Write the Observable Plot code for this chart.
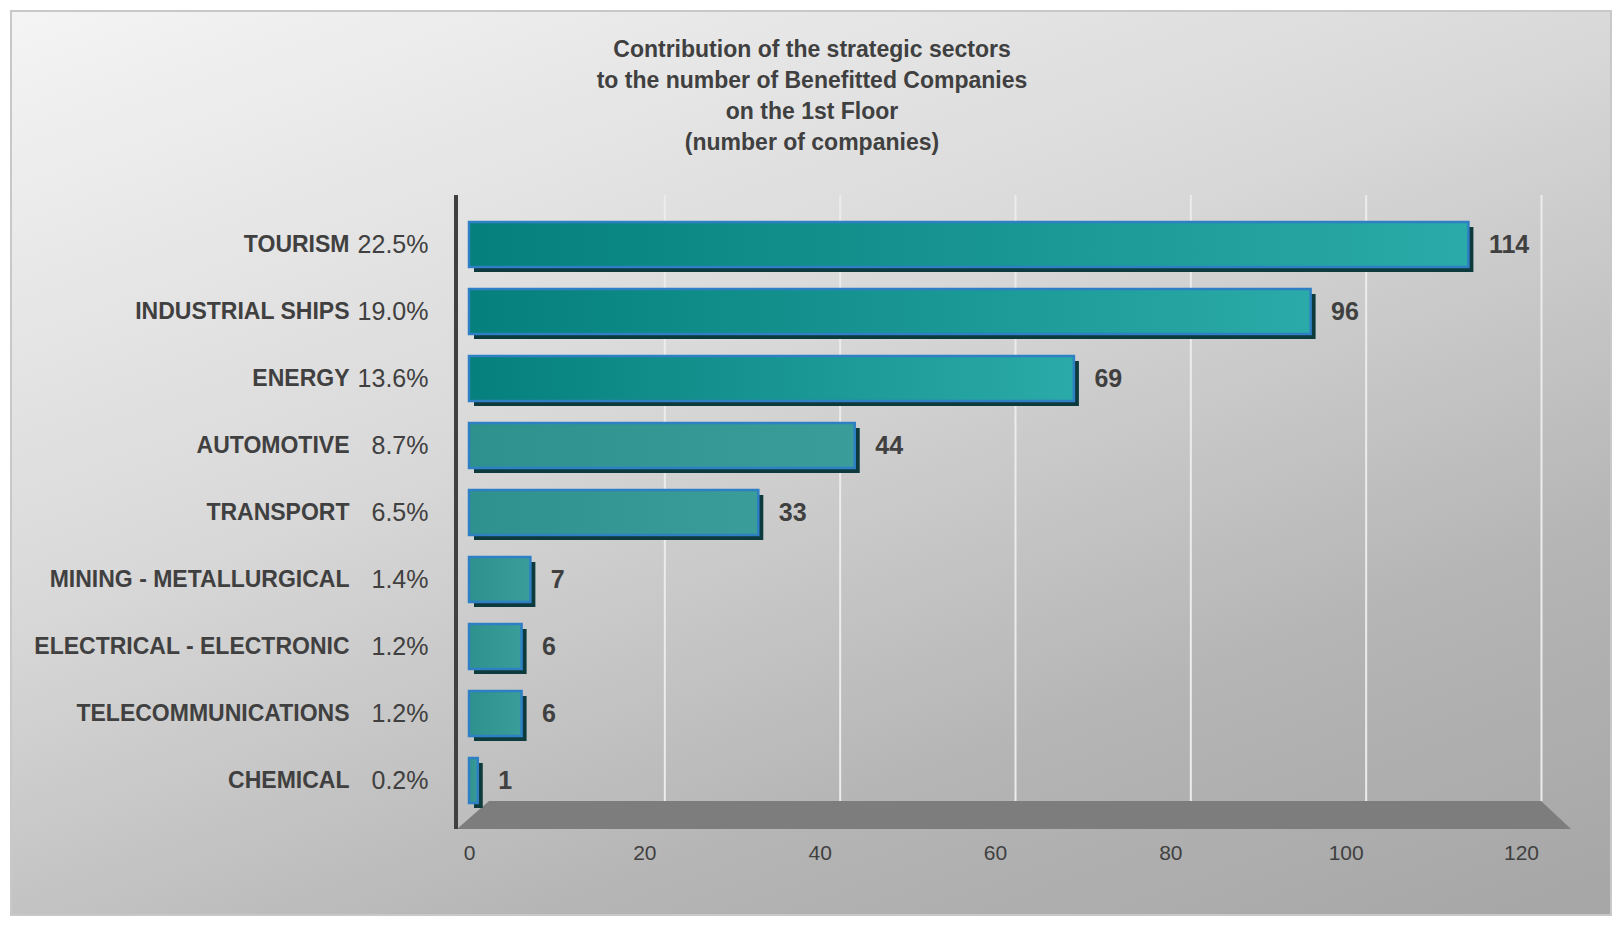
<!DOCTYPE html>
<html><head><meta charset="utf-8">
<script src="https://cdn.jsdelivr.net/npm/d3@7"></script>
<script src="https://cdn.jsdelivr.net/npm/@observablehq/plot@0.6"></script>
<style>
html,body{margin:0;padding:0;width:1624px;height:928px;overflow:hidden;font-family:"Liberation Sans",Arial,sans-serif}
#wrap{position:absolute;left:10px;top:10px;width:1602px;height:906px;border:2px solid #c8c8c8;box-sizing:border-box;
background:linear-gradient(160deg,#f4f4f4 0%,#d9d9d9 40%,#b4b4b4 75%,#a6a6a6 100%)}
#title{position:absolute;left:0;top:34px;width:1624px;text-align:center;font-weight:bold;font-size:23px;line-height:31px;color:#404040}
#chart{position:absolute;left:0;top:0}
</style></head><body>
<div id="wrap"></div>
<div id="title">Contribution of the strategic sectors<br>to the number of Benefitted Companies<br>on the 1st Floor<br>(number of companies)</div>
<div id="chart"></div>
<script>
const sectors=["TOURISM","INDUSTRIAL SHIPS","ENERGY","AUTOMOTIVE","TRANSPORT","MINING - METALLURGICAL","ELECTRICAL - ELECTRONIC","TELECOMMUNICATIONS","CHEMICAL"];
const companies=[114,96,69,44,33,7,6,6,1];
const shares=["22.5%","19.0%","13.6%","8.7%","6.5%","1.4%","1.2%","1.2%","0.2%"];
const xTicks=[0,20,40,60,80,100,120];
const data=sectors.map((s,i)=>({s,v:companies[i],p:shares[i],g:i<3?"url(#gTop)":"url(#gLow)"}));
const plot=Plot.plot({
  width:1624,height:928,marginTop:195,marginBottom:99,marginLeft:469,marginRight:103,
  style:{background:"transparent",fontFamily:"Liberation Sans, Arial, sans-serif"},
  x:{domain:[0,120],ticks:xTicks,label:null},
  y:{domain:sectors,padding:0.33,label:null,axis:null},
  marks:[
    Plot.ruleX(xTicks.slice(1),{stroke:"#ececec",strokeWidth:2,dx:20,insetBottom:28}),
    Plot.barX(data,{x:"v",y:"s",fill:"#0d3b3d",dx:5,dy:5}),
    Plot.barX(data,{x:"v",y:"s",fill:"g",stroke:"#2e7fc4",strokeWidth:2.5}),
    Plot.text(data,{x:"v",y:"s",text:d=>String(d.v),dx:20,textAnchor:"start",fontSize:25,fontWeight:"bold",fill:"#404040"}),
    Plot.text(data,{x:0,y:"s",text:"p",dx:-41,textAnchor:"end",fontSize:25,fill:"#404040"}),
    Plot.text(data,{x:0,y:"s",text:"s",dx:-120,textAnchor:"end",fontSize:23,fontWeight:"bold",fill:"#404040",letterSpacing:"0.5px"}),
    Plot.axisX({ticks:xTicks,tickSize:0,fontSize:21,fill:"#404040",tickPadding:16,anchor:"bottom"})
  ]
});
const svg=d3.select(plot);
const defs=svg.insert("defs",":first-child");
const g1=defs.append("linearGradient").attr("id","gTop");
g1.append("stop").attr("offset","0%").attr("stop-color","#05807c");
g1.append("stop").attr("offset","100%").attr("stop-color","#2aaaa8");
const g2=defs.append("linearGradient").attr("id","gLow");
g2.append("stop").attr("offset","0%").attr("stop-color","#2e918e");
g2.append("stop").attr("offset","100%").attr("stop-color","#3a9d9a");
const xs=plot.scale("x");
const y0=829, yb=801;
svg.insert("polygon","g[aria-label='rule']")
  .attr("points",`${xs.apply(0)-12},${y0} ${xs.apply(0)+20},${yb} ${xs.apply(120)+20},${yb} ${xs.apply(120)+50},${y0}`)
  .attr("fill","#7d7d7d");
svg.append("line").attr("x1",456).attr("x2",456).attr("y1",195).attr("y2",829).attr("stroke","#404040").attr("stroke-width",4);
document.getElementById("chart").appendChild(plot);
</script></body></html>
